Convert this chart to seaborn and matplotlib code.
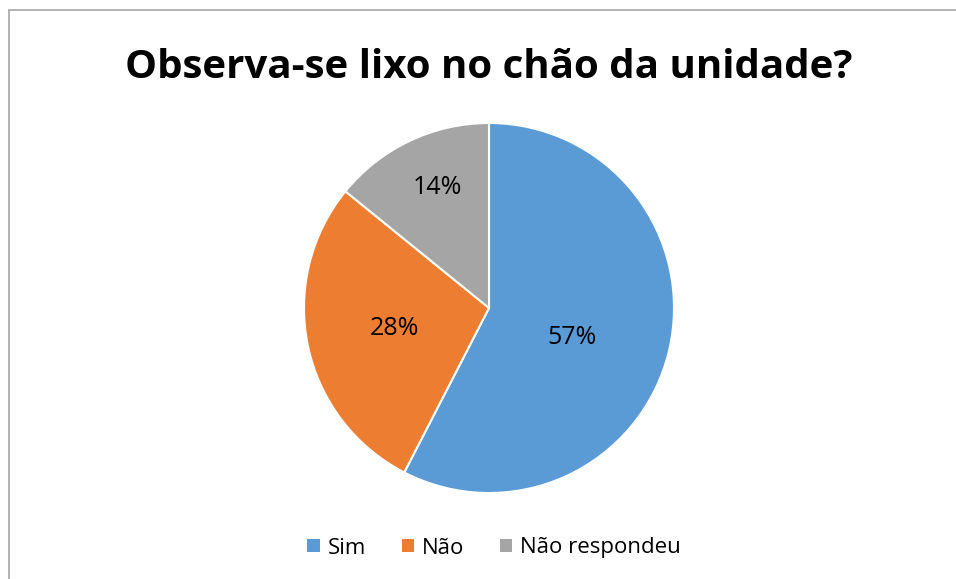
import matplotlib
matplotlib.use('Agg')
import matplotlib.pyplot as plt
import seaborn as sns
from matplotlib.patches import Patch
from matplotlib.lines import Line2D

# Chart data
categories = ['Sim', 'Não', 'Não respondeu']
values = [57, 28, 14]
colors = ['#5B9BD5', '#ED7D31', '#A5A5A5']
title = 'Observa-se lixo no chão da unidade?'

# label spots inside the pie (data units, radius 1)
label_pos = [(0.45, -0.16), (-0.51, -0.11), (-0.28, 0.65)]

sns.set_theme(style='white')
plt.rcParams['font.family'] = ['Open Sans', 'DejaVu Sans']
plt.rcParams['text.color'] = 'black'

W, H = 956, 579
fig = plt.figure(figsize=(W / 100, H / 100), dpi=100)
fig.patch.set_facecolor('white')

# pie centre and radius in pixels
cx, cy, r = 489, 308, 185
ax = fig.add_axes([(cx - r) / W, (H - cy - r) / H, 2 * r / W, 2 * r / H])

wedges, texts, autotexts = ax.pie(
    values, colors=colors, startangle=90, counterclock=False,
    autopct=lambda p: f'{p * sum(values) / 100:.0f}%',
    wedgeprops={'edgecolor': 'white', 'linewidth': 1.5},
    textprops={'fontsize': 18, 'color': 'black'},
)
for t, pos in zip(autotexts, label_pos):
    t.set_position(pos)
ax.set_xlim(-1, 1)
ax.set_ylim(-1, 1)
ax.set_aspect('equal')
ax.axis('off')

# title
fig.text(cx / W, 1 - 67 / H, title, ha='center', va='center',
         fontsize=29, fontweight='bold', color='black')

# legend at bottom
handles = [Patch(facecolor=c, edgecolor='none') for c in colors]
fig.legend(handles, categories, loc='center', bbox_to_anchor=(494 / W, 1 - 548 / H),
           ncol=3, frameon=False, fontsize=16, handlelength=0.55, handleheight=0.55,
           handletextpad=0.36, columnspacing=1.6, labelcolor='black')

# chart border (top and left visible)
fig.add_artist(Line2D([9 / W, 9 / W], [0, 1 - 10 / H], transform=fig.transFigure,
                      color='#A6A6A6', linewidth=1.2))
fig.add_artist(Line2D([9 / W, 1], [1 - 10 / H, 1 - 10 / H], transform=fig.transFigure,
                      color='#A6A6A6', linewidth=1.2))

fig.savefig('out.png', dpi=100)
